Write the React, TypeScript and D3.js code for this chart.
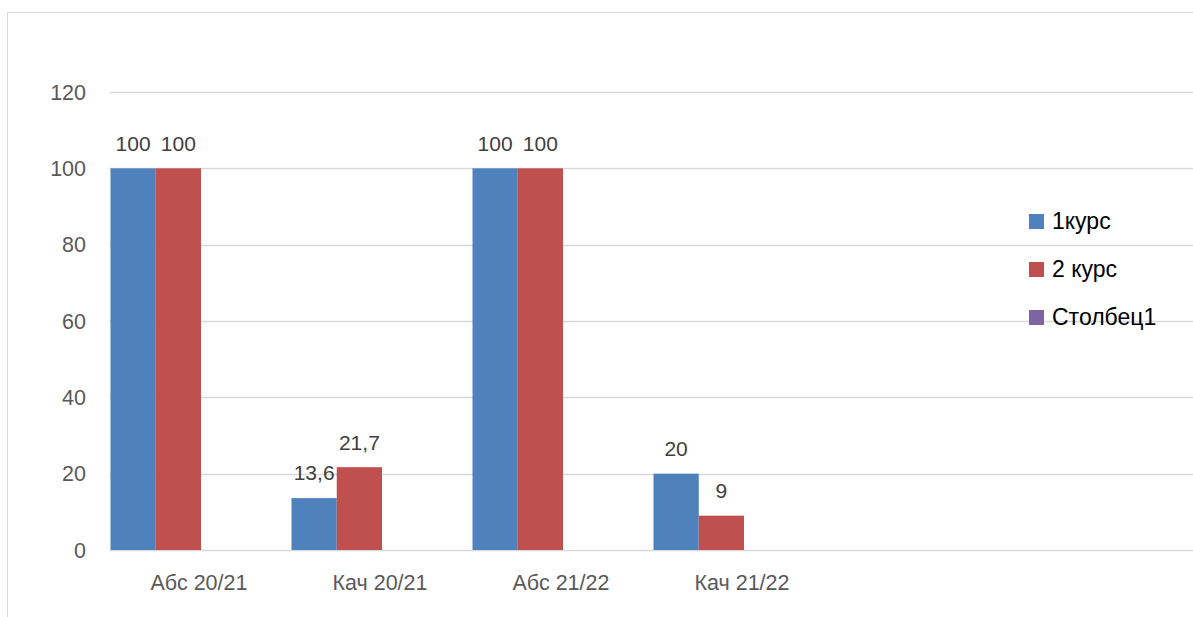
import * as React from "react";
import * as d3 from "d3";
import { useEffect, useRef } from "react";

const categories = ["Абс 20/21", "Кач 20/21", "Абс 21/22", "Кач 21/22"];
const seriesNames = ["1курс", "2 курс", "Столбец1"];
const course1 = [100, 13.6, 100, 20];
const course2 = [100, 21.7, 100, 9];
const column1: (number | null)[] = [null, null, null, null];
const yTicks = [0, 20, 40, 60, 80, 100, 120];

const colors = ["#4F81BD", "#C0504D", "#8064A2"];
const FONT = "'Liberation Sans', Arial, sans-serif";

const App: React.FunctionComponent = () => {
  const svgRef = useRef<SVGSVGElement>(null);

  useEffect(() => {
    const W = 1193;
    const H = 617;
    const svg = d3.select(svgRef.current).attr("width", W).attr("height", H);
    svg.selectAll("*").remove();

    // chart frame
    svg
      .append("rect")
      .attr("x", 7.5)
      .attr("y", 12.5)
      .attr("width", 1300)
      .attr("height", 800)
      .attr("fill", "white")
      .attr("stroke", "#D9D9D9");

    const left = 110.5;
    const slots = 6; // axis has room for six categories, last two empty
    const step = 181;

    const yScale = d3.scaleLinear().domain([0, 120]).range([550, 92]);
    const slotKeys = d3.range(slots).map(String);
    const xScale = d3
      .scaleBand()
      .domain(slotKeys)
      .range([left, left + step * slots])
      .padding(0);
    const x1 = d3
      .scaleBand()
      .domain([...seriesNames, "gap"])
      .range([0, xScale.bandwidth()])
      .padding(0);

    // gridlines
    svg
      .append("g")
      .selectAll("line")
      .data(yTicks)
      .join("line")
      .attr("x1", left - 1)
      .attr("x2", W)
      .attr("y1", (d) => Math.round(yScale(d)) + 0.5)
      .attr("y2", (d) => Math.round(yScale(d)) + 0.5)
      .attr("stroke", "#D9D9D9")
      .attr("stroke-width", 1.5);

    // y tick labels
    svg
      .append("g")
      .selectAll("text")
      .data(yTicks)
      .join("text")
      .attr("x", 86)
      .attr("y", (d) => yScale(d))
      .attr("dy", "0.35em")
      .attr("text-anchor", "end")
      .attr("font-family", FONT)
      .attr("font-size", 21.5)
      .attr("fill", "#595959")
      .text((d) => d);

    // x category labels
    svg
      .append("g")
      .selectAll("text")
      .data(categories)
      .join("text")
      .attr("x", (_, i) => xScale(String(i))! + xScale.bandwidth() / 2 - 2)
      .attr("y", 590)
      .attr("text-anchor", "middle")
      .attr("font-family", FONT)
      .attr("font-size", 21.5)
      .attr("fill", "#595959")
      .text((d) => d);

    const series = [course1, course2, column1];

    series.forEach((vals, si) => {
      const g = svg.append("g");
      const pts = vals
        .map((v, i) => ({ v, i }))
        .filter((d) => d.v !== null) as { v: number; i: number }[];
      g.selectAll("rect")
        .data(pts)
        .join("rect")
        .attr("x", (d) => xScale(String(d.i))! + x1(seriesNames[si])!)
        .attr("y", (d) => yScale(d.v))
        .attr("width", x1.bandwidth())
        .attr("height", (d) => yScale(0) - yScale(d.v))
        .attr("fill", colors[si]);
      g.selectAll("text")
        .data(pts)
        .join("text")
        .attr("x", (d) => xScale(String(d.i))! + x1(seriesNames[si])! + x1.bandwidth() / 2)
        .attr("y", (d) => yScale(d.v) - 25)
        .attr("dy", "0.35em")
        .attr("text-anchor", "middle")
        .attr("font-family", FONT)
        .attr("font-size", 21)
        .attr("fill", "#404040")
        .text((d) => String(d.v).replace(".", ","));
    });

    // legend
    const legend = svg
      .append("g")
      .selectAll("g")
      .data(seriesNames)
      .join("g")
      .attr("transform", (_, i) => `translate(1029, ${221 + i * 48})`);
    legend
      .append("rect")
      .attr("x", 0)
      .attr("y", -7)
      .attr("width", 15)
      .attr("height", 15)
      .attr("fill", (_, i) => colors[i]);
    legend
      .append("text")
      .attr("x", 23)
      .attr("y", 0)
      .attr("dy", "0.35em")
      .attr("font-family", FONT)
      .attr("font-size", 23)
      .attr("fill", "#000")
      .text((d) => d);
  }, []);

  return <svg ref={svgRef} style={{ position: "absolute", left: 0, top: 0 }}></svg>;
};

export default App;
